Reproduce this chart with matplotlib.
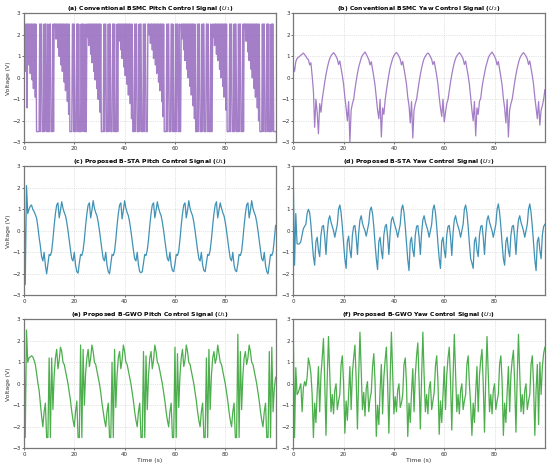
import numpy as np
import matplotlib
matplotlib.use("Agg")
import matplotlib.pyplot as plt

# sample times (s)
time_s = np.arange(201) * 0.5      # 0.5 s step
time_fast = np.arange(401) * 0.25  # 0.25 s step (switching signal)

# (a) Conventional BSMC pitch control U1 (0.25 s samples)
u1_bsmc = [
    # 0 - 5.5 s
    2.5, 0.9, 2.5, 0.3, 2.5, -1.4, 2.5, 2.5, 0.6, 2.5, 0.2, 2.5, 2.5, -0.1, 2.5, -0.5, 2.5, 2.5, -0.9, 2.5, -2.5, -2.5,
    # 5.5 - 12.5 s
    -2.5, -2.5, -2.5, 2.5, -2.5, 2.5, 2.5, -2.5, -2.5, -2.5, 2.5, -2.5, 2.5, 2.5, -2.5, -2.5, 2.5, -2.5, -2.5, 2.5,
    2.5, -2.5, -2.5, -2.5, 2.5, -2.5, 2.5, 2.5,
    # 12.5 - 18.5 s
    2.5, 1.8, 2.5, 2.5, 1.4, 2.5, 1.0, 2.5, 2.5, 0.6, 2.5, 0.3, 2.5, 2.5, -0.2, 2.5, -0.6, 2.5, 2.5, -1.1, 2.5, -1.7, 2.5, -2.5,
    # 18.5 - 25 s
    -2.5, -2.5, -2.5, 2.5, 2.5, -2.5, 2.5, -2.5, -2.5, -2.5, 2.5, 2.5, -2.5, 2.5, -2.5, -2.5, -2.5, 2.5, -2.5, 2.5,
    2.5, -2.5, -2.5, 2.5, -2.5, -2.5,
    # 25 - 31 s
    2.5, 1.9, 2.5, 1.5, 2.5, 2.5, 1.1, 2.5, 0.7, 2.5, 2.5, 0.3, 2.5, -0.1, 2.5, 2.5, -0.5, 2.5, -1.0, 2.5, 2.5, -1.6, 2.5, -2.5,
    # 31 - 37.5 s
    -2.5, -2.5, -2.5, 2.5, -2.5, 2.5, 2.5, -2.5, -2.5, -2.5, 2.5, -2.5, 2.5, 2.5, -2.5, -2.5, -2.5, 2.5, 2.5, -2.5,
    2.5, -2.5, -2.5, -2.5, 2.5, -2.5,
    # 37.5 - 43.5 s
    2.5, 1.7, 2.5, 2.5, 1.3, 2.5, 0.9, 2.5, 2.5, 0.5, 2.5, 0.1, 2.5, 2.5, -0.3, 2.5, -0.8, 2.5, 2.5, -1.2, 2.5, -1.9, 2.5, -2.5,
    # 43.5 - 49.5 s
    -2.5, -2.5, 2.5, -2.5, 2.5, 2.5, -2.5, -2.5, -2.5, 2.5, -2.5, 2.5, 2.5, -2.5, -2.5, -2.5, 2.5, -2.5, 2.5, 2.5,
    -2.5, -2.5, -2.5, 2.5,
    # 49.5 - 56 s
    2.5, 2.0, 2.5, 1.6, 2.5, 2.5, 1.3, 2.5, 0.9, 2.5, 2.5, 0.6, 2.5, 0.2, 2.5, 2.5, -0.2, 2.5, -0.6, 2.5, 2.5, -1.1,
    2.5, -1.8, 2.5, -2.5,
    # 56 - 62.5 s
    -2.5, -2.5, -2.5, 2.5, -2.5, 2.5, 2.5, -2.5, -2.5, -2.5, 2.5, 2.5, -2.5, 2.5, -2.5, -2.5, -2.5, 2.5, -2.5, 2.5,
    2.5, -2.5, -2.5, 2.5, -2.5, -2.5,
    # 62.5 - 68.5 s
    2.5, 1.8, 2.5, 2.5, 1.3, 2.5, 0.8, 2.5, 2.5, 0.4, 2.5, 0.0, 2.5, 2.5, -0.4, 2.5, -0.8, 2.5, 2.5, -1.3, 2.5, -1.9, 2.5, -2.5,
    # 68.5 - 75 s
    -2.5, -2.5, 2.5, -2.5, 2.5, 2.5, -2.5, -2.5, -2.5, 2.5, -2.5, 2.5, 2.5, -2.5, -2.5, -2.5, 2.5, 2.5, -2.5, 2.5,
    -2.5, -2.5, -2.5, 2.5, -2.5, -2.5,
    # 75 - 81 s
    2.5, 1.9, 2.5, 1.5, 2.5, 2.5, 1.1, 2.5, 0.8, 2.5, 2.5, 0.4, 2.5, 0.0, 2.5, 2.5, -0.4, 2.5, -0.9, 2.5, 2.5, -1.5, 2.5, -2.5,
    # 81 - 88 s
    -2.5, -2.5, -2.5, 2.5, -2.5, 2.5, 2.5, -2.5, -2.5, -2.5, 2.5, -2.5, 2.5, 2.5, -2.5, -2.5, -2.5, 2.5, -2.5, 2.5,
    2.5, -2.5, -2.5, -2.5, 2.5, -2.5, 2.5, 2.5,
    # 88 - 94 s
    2.5, 1.7, 2.5, 2.5, 1.2, 2.5, 0.8, 2.5, 2.5, 0.4, 2.5, 0.0, 2.5, 2.5, -0.5, 2.5, -0.9, 2.5, 2.5, -1.4, 2.5, -2.0, 2.5, -2.5,
    # 94 - 100 s
    -2.5, -2.5, -2.5, 2.5, -2.5, 2.5, 2.5, -2.5, -2.5, -2.5, 2.5, 2.5, -2.5, 2.5, -2.5, -2.5, -2.5, 2.5, -2.5, 2.5,
    2.5, -2.5, -2.5, -2.5, -2.5,
]

# (b) Conventional BSMC yaw control U2
u2_bsmc = [
    0.55, 0.3, 0.75, 0.9, 0.95, 1.0, 1.05, 1.1, 1.15, 1.08, 1.0, 0.9, 0.85, 0.6, 0.7, 0.1,
    -0.6, -2.3, -1.0, -1.6, -2.6, -1.2, -1.6,
    -1.0, -0.6, -0.2, 0.15, 0.45, 0.7, 0.9, 1.02, 1.1, 1.17, 1.1, 1.0, 0.88, 0.62, 0.78, 0.45,
    0.1, -0.3, -0.9, -1.4, -2.0, -1.1, -3.0, -1.5, -1.2,
    -1.0, -0.55, -0.15, 0.2, 0.5, 0.72, 0.92, 1.05, 1.12, 1.2, 1.1, 0.98, 0.85, 0.6, 0.75, 0.4,
    0.05, -0.35, -0.95, -1.5, -1.9, -1.0, -2.75, -1.4, -1.7,
    -1.05, -0.6, -0.2, 0.15, 0.48, 0.7, 0.9, 1.03, 1.12, 1.18, 1.1, 1.0, 0.86, 0.6, 0.76, 0.42,
    0.08, -0.3, -0.9, -1.3, -2.1, -1.1, -2.8, -1.5, -1.2,
    -1.0, -0.6, -0.2, 0.15, 0.45, 0.7, 0.9, 1.0, 1.1, 1.15, 1.1, 0.98, 0.86, 0.62, 0.76, 0.45,
    0.1, -0.3, -0.9, -1.4, -1.8, -1.0, -2.05, -1.6, -1.2,
    -1.0, -0.6, -0.2, 0.15, 0.45, 0.7, 0.9, 1.02, 1.1, 1.17, 1.1, 1.0, 0.88, 0.62, 0.78, 0.45,
    0.1, -0.3, -0.9, -1.5, -2.0, -1.1, -2.7, -1.4, -1.7, -1.1,
    -0.95, -0.45, -0.1, 0.2, 0.5, 0.72, 0.92, 1.05, 1.12, 1.2, 1.1, 1.0, 0.86, 0.6, 0.76, 0.42,
    0.05, -0.35, -0.95, -1.4, -2.1, -1.0, -2.75, -1.5, -1.2,
    -1.0, -0.6, -0.2, 0.15, 0.45, 0.7, 0.9, 1.02, 1.1, 1.17, 1.1, 1.0, 0.88, 0.62, 0.78, 0.45,
    0.1, -0.3, -0.9, -1.4, -1.9, -1.1, -2.2, -1.5, -1.3,
    -1.0, -0.55,
]

# (c) Proposed B-STA pitch control U1
u1_bsta = [
    2.5, -2.5, 2.1, 0.8, 1.0, 1.15, 1.2, 1.0, 0.9, 0.75, 0.6, 0.2, -0.3, -0.7, -1.2, -1.4, -1.0, -1.6,
    -2.0, -1.55, -1.1, -1.15, -0.95, -0.4, 0.25, 0.8, 1.2, 1.3, 0.6, 0.95, 1.35, 1.05, 0.85, 0.7,
    0.4, 0.0, -0.45, -0.9, -1.3, -1.4, -1.0, -1.6, -1.9,
    -1.97, -1.5, -1.1, -1.15, -0.9, -0.4, 0.25, 0.8, 1.2, 1.3, 0.6, 0.95, 1.4, 1.05, 0.85, 0.7,
    0.4, 0.0, -0.45, -0.9, -1.3, -1.4, -1.0, -1.6, -1.9,
    -2.0, -1.55, -1.1, -1.15, -0.95, -0.4, 0.25, 0.8, 1.2, 1.3, 0.55, 0.95, 1.4, 1.05, 0.85, 0.7,
    0.4, 0.0, -0.45, -0.9, -1.3, -1.4, -1.0, -1.6, -1.9, -1.95,
    -1.9, -1.5, -1.1, -1.15, -0.9, -0.4, 0.25, 0.8, 1.2, 1.3, 0.6, 0.95, 1.35, 1.05, 0.85, 0.7,
    0.4, 0.0, -0.45, -0.9, -1.3, -1.4, -1.0, -1.6, -1.85,
    -1.9, -1.55, -1.1, -1.15, -0.95, -0.4, 0.25, 0.8, 1.2, 1.3, 0.6, 0.95, 1.4, 1.05, 0.85, 0.7,
    0.4, 0.0, -0.45, -0.9, -1.3, -1.4, -1.0, -1.6, -1.85,
    -1.9, -1.5, -1.1, -1.15, -0.9, -0.4, 0.25, 0.8, 1.2, 1.35, 0.6, 0.95, 1.3, 1.05, 0.85, 0.7,
    0.4, 0.0, -0.45, -0.9, -1.3, -1.4, -1.0, -1.6, -1.85,
    -1.9, -1.55, -1.1, -1.15, -0.95, -0.4, 0.25, 0.8, 1.2, 1.3, 0.6, 0.95, 1.4, 1.05, 0.85, 0.7,
    0.4, 0.0, -0.45, -0.9, -1.3, -1.4, -1.0, -1.6, -1.9,
    -2.0, -1.55, -1.1, -1.15, -0.95, -0.4, 0.25,
]

# (d) Proposed B-STA yaw control U2
u2_bsta = [
    2.5, -1.6, 0.8, -0.6, -0.62, -0.6, -0.5, -0.2, 0.1, 0.2, 0.3, 0.8, 1.0, 0.85, 0.3, -0.5, -1.2,
    -1.6, -0.5, -0.3, -0.9, -1.2, -0.2, 0.2, 0.25, -0.3, -1.1, -0.1, 0.5, 0.7, 0.4, 0.2, 0.0,
    -0.3, 0.0, 0.3, 1.0, 1.2, 0.85, 0.2, -0.6, -1.3,
    -1.75, -0.5, -0.25, -0.9, -1.25, -0.2, 0.2, 0.25, -0.3, -1.1, -0.1, 0.5, 0.7, 0.35, 0.15, 0.0,
    -0.25, 0.05, 0.35, 0.95, 1.1, 0.8, 0.2, -0.6, -1.3,
    -1.8, -0.5, -0.3, -0.9, -1.3, -0.2, 0.2, 0.3, -0.3, -1.1, -0.1, 0.5, 0.65, 0.4, 0.2, 0.0,
    -0.3, 0.0, 0.3, 1.0, 1.2, 0.85, 0.2, -0.6, -1.35,
    -1.85, -0.5, -0.3, -0.9, -1.2, -0.2, 0.2, 0.25, -0.3, -1.1, -0.1, 0.5, 0.7, 0.4, 0.2, 0.0,
    -0.3, 0.0, 0.3, 1.0, 1.2, 0.85, 0.2, -0.6, -1.3,
    -1.75, -0.5, -0.3, -0.9, -1.25, -0.2, 0.2, 0.25, -0.3, -1.15, -0.1, 0.5, 0.7, 0.4, 0.2, 0.0,
    -0.3, 0.0, 0.3, 1.0, 1.2, 0.85, 0.2, -0.6, -1.3, -1.5,
    -1.75, -0.5, -0.3, -0.9, -1.2, -0.2, 0.2, 0.25, -0.3, -1.1, -0.1, 0.5, 0.7, 0.4, 0.2, 0.0,
    -0.3, 0.0, 0.3, 1.0, 1.25, 0.85, 0.2, -0.6, -1.3,
    -1.6, -0.5, -0.3, -0.9, -1.2, -0.2, 0.2, 0.25, -0.3, -1.1, -0.1, 0.5, 0.7, 0.4, 0.2, 0.0,
    -0.3, 0.0, 0.3, 1.0, 1.25, 0.85, 0.2, -0.6, -1.35,
    -1.85, -0.5, -0.3, -0.9, -1.3, -0.2, 0.2, 0.3,
]

# (e) Proposed B-GWO pitch control U1
u1_bgwo = [
    2.5, -2.5, 2.5, 1.0, 1.2, 1.25, 1.3, 1.25, 1.1, 0.9, 0.5, 0.05, -0.3, -0.9, -1.5,
    -2.0, -1.3, -0.9, -2.5, -2.5, 1.2, -2.5, 1.2, -1.2, 0.4, 1.2, 1.6, 0.7, 1.1, 1.7, 1.5,
    1.0, 0.9, 0.6, 0.3, 0.0, -0.4, -0.8, -1.3, -1.7,
    -2.0, -1.3, -0.8, -2.5, -2.5, 1.8, -2.5, 1.6, -1.0, 0.5, 1.2, 1.6, 0.8, 1.2, 1.8, 1.5,
    1.0, 0.9, 0.6, 0.3, 0.0, -0.4, -0.9, -1.3, -1.7,
    -2.0, -1.3, -0.9, -2.5, -2.5, 1.0, -2.5, 1.6, -1.1, 0.4, 1.2, 1.5, 0.7, 1.1, 1.8, 1.5,
    1.0, 0.9, 0.6, 0.3, 0.0, -0.4, -0.8, -1.3, -1.7,
    -2.0, -1.3, -0.9, -2.5, -2.5, 1.5, -2.5, 1.3, -1.2, 0.4, 1.2, 1.5, 0.7, 1.1, 1.8, 1.5,
    1.0, 0.9, 0.6, 0.3, 0.0, -0.4, -0.8, -1.3, -1.7,
    -2.0, -1.3, -0.9, -2.5, -2.5, 1.7, -2.5, 1.4, -1.1, 0.4, 1.2, 1.6, 0.8, 1.1, 1.8, 1.5,
    1.0, 0.9, 0.6, 0.3, 0.0, -0.4, -0.8, -1.3, -1.7,
    -2.0, -1.3, -0.9, -2.5, -2.5, 1.2, -2.5, 1.6, -1.2, 0.4, 1.2, 1.5, 0.95, 1.2, 1.8, 1.4,
    1.0, 0.9, 0.6, 0.3, 0.0, -0.4, -0.8, -1.3, -1.7,
    -2.0, -1.3, -0.9, -2.5, -2.5, 2.3, -2.5, 1.5, -1.2, 0.4, 1.2, 1.5, 0.9, 1.2, 1.8, 1.5,
    1.0, 0.9, 0.6, 0.3, 0.0, -0.4, -0.8, -1.3, -1.7,
    -2.0, -1.3, -0.9, -2.5, -2.5, 1.5, -2.5, 1.7, -1.3, -0.2, 0.3,
]

# (f) Proposed B-GWO yaw control U2
u2_bgwo = [
    2.5, -2.5, 0.75, -0.5, -0.4, -0.2, 0.0, -1.3, -0.2, 0.1, -0.1, 0.3, 1.2, 0.9, 0.5, -0.5,
    -2.5, -0.9, -1.8, -0.4, 0.8, -1.3, 0.4, 1.2, 2.1, 0.1, -2.4, 0.3, 2.2, 0.5, -1.3, -0.5,
    -1.4, -0.3, 0.0, -1.2, -0.8, -0.5, 0.9, 1.3, 0.0,
    -2.3, -0.8, -1.7, -0.5, 0.8, -1.2, 0.5, 1.2, 1.8, 0.2, -2.1, 0.4, 2.4, 0.6, -1.2, -0.4,
    -1.5, -0.2, 0.1, -1.3, -0.7, -0.4, 0.8, 1.4, 0.1,
    -2.45, -1.0, -1.9, -0.3, 0.9, -1.4, 0.3, 1.1, 1.7, 0.0, -2.3, 0.2, 2.4, 0.5, -1.4, -0.6,
    -1.3, -0.3, 0.0, -1.1, -0.9, -0.5, 0.9, 1.2, 0.0,
    -2.45, -0.9, -1.8, -0.4, 0.7, -1.3, 0.4, 1.3, 1.9, 0.1, -2.1, 0.3, 2.4, 0.4, -1.3, -0.5,
    -1.4, -0.2, 0.1, -1.2, -0.8, -0.4, 0.8, 1.3, 0.1,
    -2.35, -0.8, -1.8, -0.5, 0.8, -1.2, 0.4, 1.2, 1.7, 0.1, -2.15, 0.3, 2.3, 0.5, -1.3, -0.5,
    -1.4, -0.3, 0.0, -1.2, -0.8, -0.5, 0.9, 1.3, 0.0, -1.0,
    -2.4, -0.9, -1.8, -0.4, 0.8, -1.3, 0.4, 1.1, 1.6, 0.0, -2.25, 0.3, 2.2, 0.5, -1.3, -0.5,
    -1.4, -0.3, 0.0, -1.2, -0.8, -0.5, 0.9, 1.3, 0.1,
    -2.4, -0.9, -1.8, -0.4, 0.8, -1.3, 0.4, 1.1, 1.55, 0.0, -2.25, 0.3, 2.3, 0.5, -1.3, -0.5,
    -1.4, -0.3, 0.0, -1.2, -0.8, -0.5, 0.9, 1.3, 0.0,
    -2.4, -0.3, 0.9, -1.9, 1.0, -0.5, 0.8, 1.4, 1.7,
]

panels = [
    ("(a) Conventional BSMC Pitch Control Signal ($U_1$)", time_fast, u1_bsmc, "#9467bd", 1.0),
    ("(b) Conventional BSMC Yaw Control Signal ($U_2$)", time_s, u2_bsmc, "#9467bd", 0.9),
    ("(c) Proposed B-STA Pitch Control Signal ($U_1$)", time_s, u1_bsta, "#1f7fa8", 0.9),
    ("(d) Proposed B-STA Yaw Control Signal ($U_2$)", time_s, u2_bsta, "#1f7fa8", 0.9),
    ("(e) Proposed B-GWO Pitch Control Signal ($U_1$)", time_s, u1_bgwo, "#2ca02c", 0.9),
    ("(f) Proposed B-GWO Yaw Control Signal ($U_2$)", time_s, u2_bgwo, "#2ca02c", 0.9),
]

fig, axes = plt.subplots(3, 2, figsize=(5.5, 4.7), dpi=100)
fig.subplots_adjust(left=0.0436, right=0.9907, bottom=0.0462, top=0.9717,
                    wspace=0.0703, hspace=0.1856)

for i, (ax, (title, tt, vals, col, lw)) in enumerate(zip(axes.flat, panels)):
    ax.plot(tt, vals, color=col, lw=lw, alpha=0.85)
    ax.set_xlim(0, 100)
    ax.set_ylim(-3, 3)
    ax.set_xticks([0, 20, 40, 60, 80])
    ax.set_yticks([-3, -2, -1, 0, 1, 2, 3])
    ax.set_title(title, fontsize=4.4, fontweight="bold", pad=2)
    ax.grid(True, linestyle=":", linewidth=0.5, color="#bbbbbb", alpha=0.8)
    ax.tick_params(labelsize=4.1, length=1.5, width=0.5, pad=1, colors="#333333")
    for sp in ax.spines.values():
        sp.set_color("#777777")
        sp.set_linewidth(0.9)
    if i % 2 == 0:
        ax.set_ylabel("Voltage (V)", fontsize=4.3, labelpad=1, color="#333333")
    if i >= 4:
        ax.set_xlabel("Time (s)", fontsize=4.4, labelpad=1, color="#333333")

fig.savefig("out.png", dpi=100)
